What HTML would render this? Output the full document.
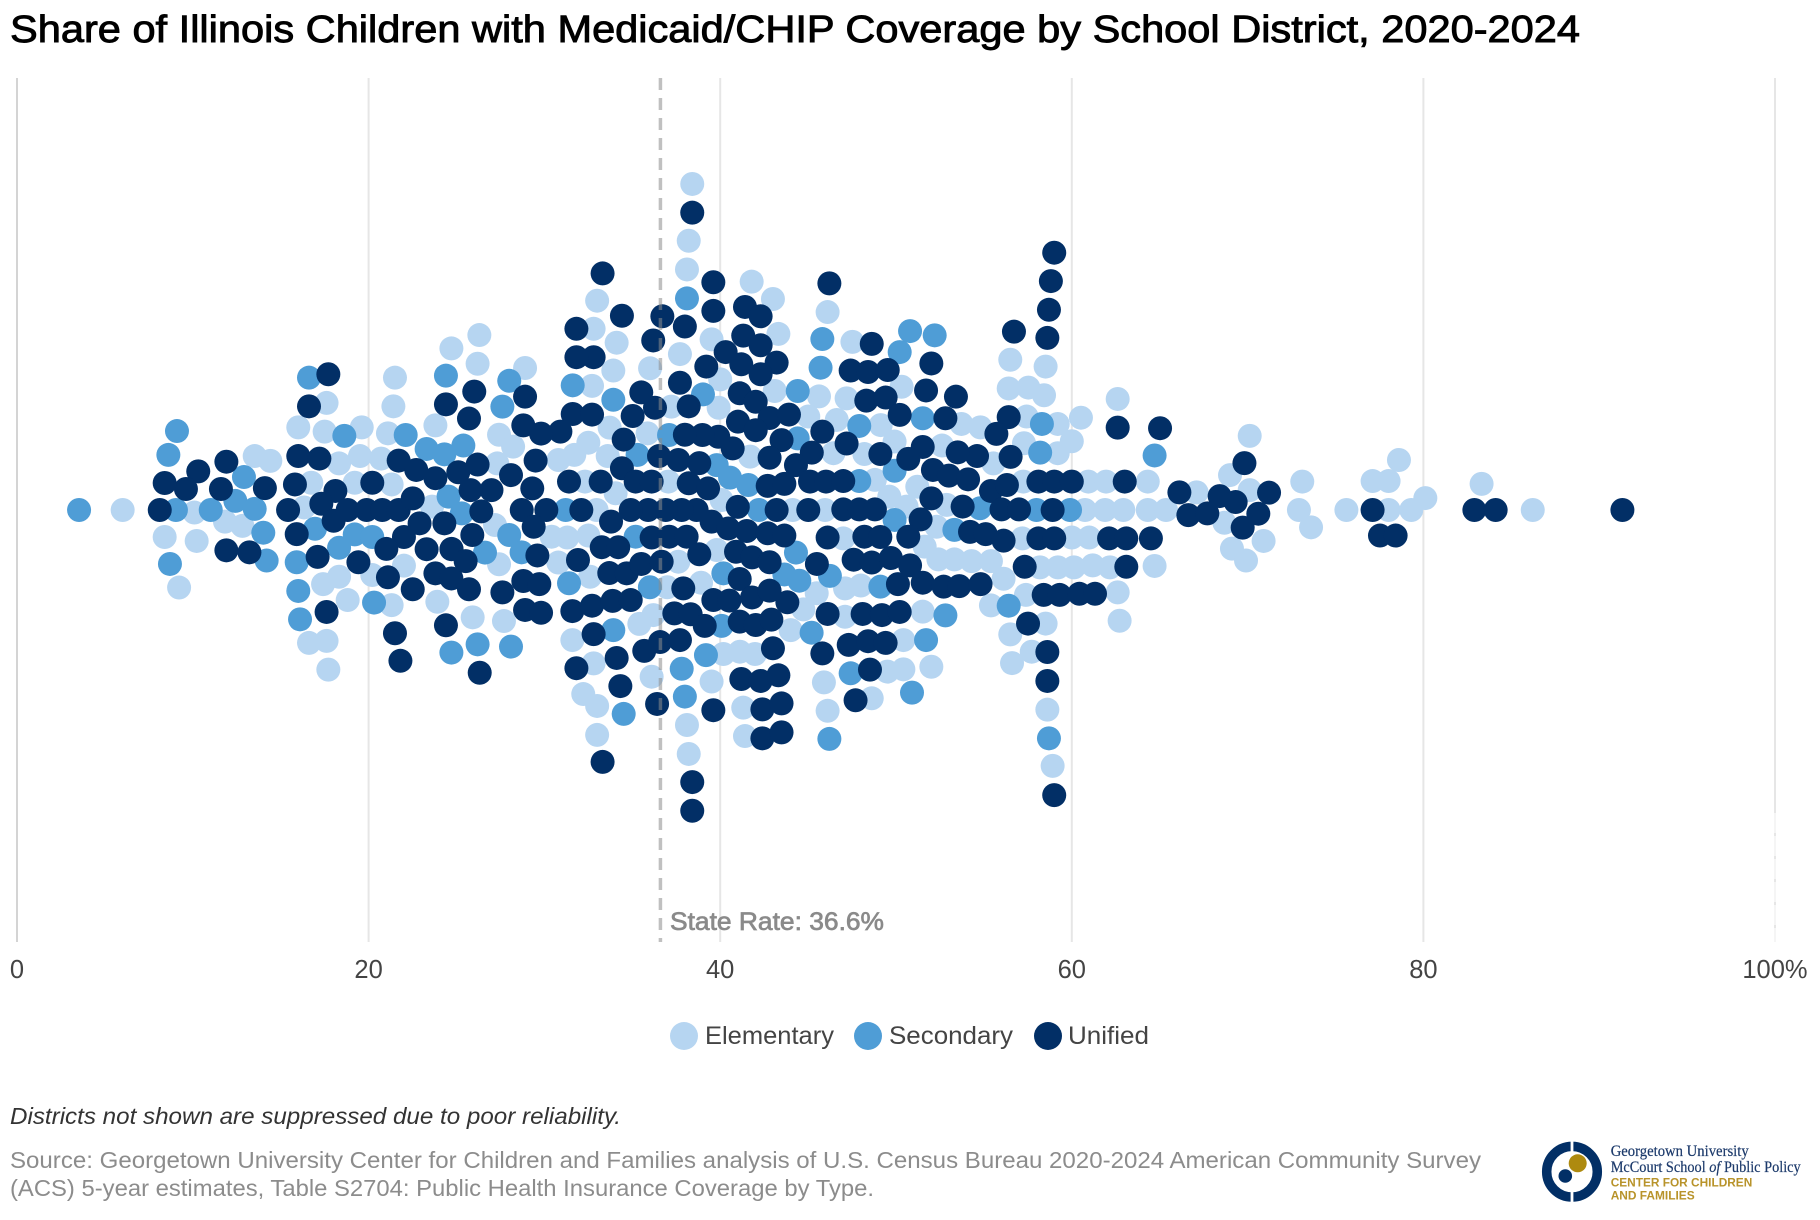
<!DOCTYPE html>
<html lang="en">
<head>
<meta charset="utf-8">
<title>Share of Illinois Children with Medicaid/CHIP Coverage by School District, 2020-2024</title>
<style>
html,body{margin:0;padding:0;background:#fff;width:1820px;height:1220px;overflow:hidden}
svg{display:block;font-family:"Liberation Sans",Arial,sans-serif}
</style>
</head>
<body>
<svg id="chart" xmlns="http://www.w3.org/2000/svg" width="1820" height="1220" viewBox="0 0 1820 1220">
  <text x="10" y="42" font-size="38" fill="#000" stroke="#000" stroke-width="0.9" textLength="1570" lengthAdjust="spacingAndGlyphs">Share of Illinois Children with Medicaid/CHIP Coverage by School District, 2020-2024</text>
  <g id="grid"></g>
  <line x1="1775" x2="1775" y1="813" y2="942" stroke="#fff" stroke-opacity="0.6" stroke-width="2.5" stroke-dasharray="20 3"></line>
  <g id="ticks"></g>
  <g id="elementary" fill="#b6d5f1"></g>
  <g id="secondary" fill="#4f9dd6"></g>
  <g id="unified" fill="#022f66"></g>
  <line id="state-line" y1="78" y2="942" stroke="#8c8c8c" stroke-opacity="0.55" stroke-width="3.5" stroke-dasharray="12 8"></line>
  <text x="670" y="930" font-size="25" fill="#8a8a8a" stroke="#8a8a8a" stroke-width="0.7" textLength="214" lengthAdjust="spacingAndGlyphs">State Rate: 36.6%</text>

  <g>
    <g>
      <circle cx="684" cy="1036" r="14" fill="#b6d5f1"></circle>
      <text x="705" y="1044" font-size="25" fill="#444" textLength="129" lengthAdjust="spacingAndGlyphs">Elementary</text>
    </g>
    <g>
      <circle cx="868" cy="1036" r="14" fill="#4f9dd6"></circle>
      <text x="889" y="1044" font-size="25" fill="#444" textLength="124" lengthAdjust="spacingAndGlyphs">Secondary</text>
    </g>
    <g>
      <circle cx="1048" cy="1036" r="14" fill="#022f66"></circle>
      <text x="1068" y="1044" font-size="25" fill="#444" textLength="81" lengthAdjust="spacingAndGlyphs">Unified</text>
    </g>
  </g>

  <text x="10" y="1124" font-size="23" font-style="italic" fill="#333" textLength="611" lengthAdjust="spacingAndGlyphs">Districts not shown are suppressed due to poor reliability.</text>
  <text x="10" y="1168" font-size="23" fill="#8c8c8c" textLength="1471" lengthAdjust="spacingAndGlyphs">Source: Georgetown University Center for Children and Families analysis of U.S. Census Bureau 2020-2024 American Community Survey</text>
  <text x="10" y="1196" font-size="23" fill="#8c8c8c" textLength="864" lengthAdjust="spacingAndGlyphs">(ACS) 5-year estimates, Table S2704: Public Health Insurance Coverage by Type.</text>

  <g>
    <circle cx="1572" cy="1171.7" r="25.3" fill="none" stroke="#022f66" stroke-width="9.5"></circle>
    <rect x="1570.6" y="1138" width="2.8" height="68" fill="#fff"></rect>
    <circle cx="1577.7" cy="1163.3" r="9" fill="#ae8a0f"></circle>
    <circle cx="1565.3" cy="1176" r="6.8" fill="#022f66"></circle>
    <text x="1610.7" y="1156" font-family="Liberation Serif, serif" font-size="15.5" fill="#1c3a6b" stroke="#1c3a6b" stroke-width="0.2" textLength="138" lengthAdjust="spacingAndGlyphs">Georgetown University</text>
    <text x="1610.7" y="1172" font-family="Liberation Serif, serif" font-size="15.5" fill="#1c3a6b" stroke="#1c3a6b" stroke-width="0.2" textLength="190" lengthAdjust="spacingAndGlyphs">McCourt School <tspan font-style="italic">of</tspan> Public Policy</text>
    <text x="1610.7" y="1186.7" font-size="12" font-weight="bold" fill="#b8932a" textLength="141.6" lengthAdjust="spacingAndGlyphs">CENTER FOR CHILDREN</text>
    <text x="1610.7" y="1199.3" font-size="12" font-weight="bold" fill="#b8932a" textLength="84" lengthAdjust="spacingAndGlyphs">AND FAMILIES</text>
  </g>
</svg>
<script>
// Axis ticks and reference value
var tickValues = [0, 20, 40, 60, 80, 100];
var tickLabels = ["0", "20", "40", "60", "80", "100%"];
var stateRate = 36.6;

// Medicaid/CHIP share (%) and swarm lane (rows from centre) for each district type
var elementaryShare = [6.01,10.09,11.83,12.82,13.52,14.41,8.4,10.22,9.22,16.33,16.74,16,17.5,17.61,17.41,18.32,16.61,17.61,17.71,20.21,22.01,18.81,21.31,23.91,23.61,19.21,21.31,18.32,19.51,20.71,19.61,21.1,23.8,21.5,21.41,24.71,
38.41,38.21,38.11,37.71,39.51,40,39.91,41.79,43.31,43,43.1,45.62,46.11,46.63,45.01,37.22,35.87,36.01,34.11,33.92,33.71,32.8,33,32.71,28.9,27.42,28.22,26.2,26.3,32.5,31.7,30.8,33.6,41.7,46.44,27.32,
32.31,37.05,40.08,44.12,45.96,34.05,32.97,27.19,27.42,30.41,31.3,32.5,39.8,37.62,30.79,32.6,36.99,38.91,45.49,44.73,47.1,36.2,35.4,44.01,25.92,27.7,31.59,40.18,41.12,41.98,36.1,39.51,32.8,32.21,33,33,38.11,38.21,41.31,41.41,45.9,46.11,
58.51,58.42,57.53,56.41,56.5,57.43,59.2,60.52,62.61,60,59.2,57.28,54.8,53.72,47.52,50.32,49.13,47.19,49.92,48.2,52.62,51.21,55.54,57.24,60.94,61.95,64.32,67.1,48.8,49.62,50.6,52.88,60.75,61.89,62.93,64.32,65.36,
47,52.31,57.19,60,60.99,51.63,52.41,53.32,54.3,55.4,58.19,59.21,60.12,61.19,62.17,64.71,48,56.12,57.39,62.61,55.4,62.72,58.51,56.5,57.72,56.6,58.61,58.91,47.1,51.52,50.42,49.51,50.42,52.01,48.62,
70.12,69,70.12,68.68,70.91,69.11,69.91,73.11,72.92,73.61,75.62,78.02,79.31,80.11,77.11,78.02,78.61,83.31,86.22];
var elementaryLane = [0,.09,.41,.56,-1.9,-1.73,.95,1.09,2.73,-.09,-.96,-2.91,-2.76,-3.77,2.61,2.35,4.68,4.61,5.62,2.29,1.96,3.17,3.35,3.23,-.12,-.96,-.9,-1.64,-1.9,-1.81,-2.91,-2.7,-2.98,-4.66,-3.65,-5.69,
-11.48,-9.48,-8.47,-5.49,-6.01,-4.6,-3.6,-8.04,-6.2,-7.43,-4.19,-4,-6.97,-3.17,-3.29,-3.64,-2.7,-4.99,-5.89,-4.91,-2.9,-6.38,-7.37,-4.37,-5,-2.65,-2.23,-5.15,-6.16,-2.37,-1.94,-1.76,-1.9,-1.88,-2,-1.64,
-1,-1,-.35,0,0,-.59,0,.53,1.91,.94,.97,.9,1.41,1.82,1.85,2.35,2.72,2.56,2.93,3.5,2.76,3.7,4.01,4.23,3.78,3.91,4.58,5.07,4.99,5.07,5.87,6.04,5.4,6.48,6.9,7.92,7.57,8.59,6.96,7.96,6.07,7.07,
-5.05,-4.04,-4.31,-4.28,-5.29,-3.29,-3.03,-3.25,-3.91,-2.42,-2,-2.35,-2.91,-3.03,-5.92,-4.34,-2.99,-3.93,-2.41,-1.97,-2.27,-.82,-1.64,-1,-1,-1,-1,-.62,-1.06,-.47,-.12,-.18,0,0,0,0,0,
1,.59,1,.97,.97,1.29,1.74,1.74,1.8,1.8,2.02,2.02,2.02,1.95,2.02,1.97,2.66,2.42,2.99,2.9,3.36,3.9,4,4.38,4.99,5.39,7.03,9.01,3.76,3.58,4.58,5.69,5.61,5.52,6.63,
-2.61,-1.23,-.7,.45,1.09,1.36,1.78,-1,0,.61,0,0,0,-.42,-1.02,-1.02,-1.76,-.92,0];

var secondaryShare = [3.53,9.04,11.02,12.42,13.52,12.91,8.61,9.1,8.7,14.01,14.2,16.61,16.95,15.91,16,16.1,18.32,19.21,20.21,20.31,24.71,24.55,18.62,22.11,23.3,24.31,
38.11,39.02,44.41,45.81,45.71,44.41,37.09,33.92,31.61,28,27.61,24.4,35.3,39.8,40.56,25.39,
41.6,42.2,31.21,28,25.3,44.31,46.24,26.62,28.7,35.19,31.4,36,40.18,43.65,44.5,33.92,40.08,45.2,26.2,28.1,39.19,37.81,34.51,37.99,46.21,
58.3,64.71,58.2,51.52,52.2,50.8,50.21,47.91,49.92,47.91,54.78,49.92,57.99,59.9,
53.32,49.11,56.41,52.81,51.71,47.42,50.91,58.7];
var secondaryLane = [0,0,0,-.32,-.04,-1.16,-1.94,-2.78,1.9,.8,1.78,-4.66,.66,1.84,2.85,3.85,1.33,.86,.95,3.26,5.02,-.47,-2.61,-2.64,-2.15,-1.96,
-7.45,-4.07,-4.19,-6.02,-5.01,-2.52,-2.64,-3.88,-4.39,-4.55,-3.64,-4.73,-1.94,-1.58,-1.14,-2.27,
-.88,0,0,.88,.12,1.5,2.32,1.5,1.49,.94,2.58,2.72,2.23,2.27,2.49,4.23,4.08,4.32,4.73,4.81,5.11,5.59,7.18,6.57,8.06,
-3.03,-1.92,-2.02,-3.23,-6.15,-6.3,-5.56,-2.96,-1.38,-1.02,-.06,.35,0,0,
.7,2.7,3.37,3.71,4.58,5.75,6.43,8.04];

var unifiedShare = [8.12,11.6,14.1,11.91,10.31,9.61,8.4,11.91,13.22,15.42,15.81,16,17.2,16.61,17.71,15.91,17.1,17.61,18.11,17.31,18.01,18.81,19.89,20.78,21.71,22.51,22.9,22.01,21.01,19.42,21.1,22.51,21.5,21.81,24.4,23.8,24.71,23.3,24.71,24.31,20.21,21.71,22.71,23.8,25.1,24.4,
38.41,37.99,37.71,38.21,39.61,39.61,39.21,40.31,41.41,42.3,41.31,42.3,41.2,43.21,42.3,41.11,42.02,46.21,42.81,43.91,41.01,42.02,45.81,43.49,45.21,40.71,39.89,38.99,37.99,34.51,35.02,36.29,35.51,36.19,36.71,34.41,32.8,31.82,31.82,33.31,31.61,32.71,30.91,29.81,28.8,28.9,26.01,25.71,29.5,36.52,37.62,38.81,42.81,44.31,26.2,28.1,34.41,
31.4,33.2,35.19,36.1,38.21,39.31,42.7,43.65,45.11,46.02,41,43.21,45.01,39.51,40.46,41.51,42.7,43.65,46.11,45.5,38.66,37.81,36.9,35.9,34.91,33.79,32.1,30.11,28.71,29.31,26.99,25.8,29.39,26.41,25.9,24.72,25.52,29.6,36.1,37.1,38.09,38.81,40.9,41.81,42.81,33.26,34.2,31.91,33.69,34.68,35.51,36.67,28.8,29.71,27.61,25.71,37.9,41.11,41.81,42.81,43.82,39.61,40.52,46.11,31.59,32.71,33.88,34.91,37.39,38.32,39.12,41.11,42.02,42.91,45.81,28.9,29.81,26.32,32.8,34.11,35.68,36.58,37.71,43,31.82,34.32,36.41,38.41,38.41,39.61,41.2,42.3,43.31,42.4,43.49,42.4,43.49,33.31,
59,58.81,58.7,58.61,56.71,56.41,55.71,62.61,65.02,56.52,54.61,53.51,52.81,53.41,51.71,52.01,48.62,47.42,48.41,49.53,48.31,49.41,50.21,47.19,49.11,51.52,50.7,52.1,53.01,54.1,55.4,56.31,58.1,59,60,63.01,66.12,68.41,66.63,47,52.01,53.79,47,47.91,48.8,56,57,58.91,
51.4,48.2,49.11,50.7,54.21,55.1,56.12,58.1,59,62.12,63.1,64.5,57.32,63.1,47.59,48.62,49.71,50.8,50.11,51.52,52.71,53.6,54.81,58.4,59.31,60.43,61.32,57.51,58.61,58.61,59,48.1,49.2,50.21,47.31,48.41,49.41,48.52,47.7,
69.82,71.22,69.32,67.71,70.61,69.72,77.11,77.53,78.42,82.9,84.11,91.32];
var unifiedLane = [0,-.74,-.77,-1.7,-1.36,-.74,-.95,1.42,1.49,0,-.9,-1.9,-1.81,-3.65,-4.78,.85,1.65,3.59,-.67,-.22,.38,0,0,0,0,-.41,.47,.95,1.37,1.84,2.37,2.79,4.34,5.31,4.06,2.23,2.41,1.38,1.38,.47,-.96,-1.74,-1.41,-1.12,-1.33,-3.72,
-10.47,-6.46,-4.48,-3.65,-8.02,-7.01,-5.05,-5.56,-7.15,-6.82,-6.14,-5.8,-5.13,-5.19,-4.78,-4.11,-3.81,-7.98,-3.24,-3.36,-3.11,-2.81,-2.76,-2.46,-2.02,-2.17,-2.58,-2.64,-2.65,-2.48,-3.31,-3.6,-4.14,-5.97,-6.82,-6.84,-5.38,-6.38,-5.38,-8.33,-3.38,-3.36,-2.76,-2.69,-2.98,-3.99,-4.17,-3.22,-1.74,-1.9,-1.76,-1.65,-1.84,-1.58,-1.6,-1.23,-1.47,
-1,-1,-1,-1,-.94,-.76,-.85,-.92,-1,-1,-.11,0,0,.41,.65,.74,.82,.9,.97,1.9,0,0,0,0,0,.41,0,0,0,-.76,-.7,-.7,.59,.05,.88,1.37,1.8,1.6,.97,.94,.94,1.56,1.47,1.67,1.84,1.31,1.31,1.76,2.22,2.23,1.9,1.82,2.5,2.61,2.9,2.79,2.76,2.43,3.08,2.84,3.25,3.17,3.19,3.66,3.56,3.37,3.2,3.17,3.64,3.67,4.08,3.93,4.05,3.86,5.05,3.52,3.62,5.73,4.37,5.21,4.96,4.65,4.58,4.87,5.57,6.2,6.83,9.58,10.59,7.05,5.95,6.02,5.82,7.02,6.81,8.04,7.83,8.87,
-9.06,-8.06,-7.05,-6.06,-6.28,-3.27,-2.68,-2.9,-2.88,-1.87,-1.9,-2.03,-3.23,-3.99,-4.21,-5.16,-5.85,-4.91,-4.86,-4.93,-3.85,-3.96,-3.35,-2.34,-1.97,-2.22,-1.8,-1.41,-1.21,-1.08,-.67,-.88,-1,-1,-1,-1,-.62,-.49,.18,-1.02,-.41,-.12,-.02,-.02,-.02,-.02,-.02,0,
.33,.94,.95,.94,.77,.85,1.08,1,1,1,1,1,2,2,1.75,1.85,1.69,1.95,2.61,2.56,2.7,2.68,2.61,2.99,2.99,2.95,2.95,4,5,6.02,10.04,3.66,3.7,3.59,4.75,4.62,4.68,5.62,6.7,
-1.65,-.61,-.28,.12,.13,.62,0,.9,.9,0,0,0];

// Axis functions
function xScale(value) { return 17 + value * 17.58; }
function yScale(lane) { return 510 + lane * 28.4; }

var SVGNS = "http://www.w3.org/2000/svg";

function drawGrid() {
  var grid = document.getElementById("grid");
  var ticks = document.getElementById("ticks");
  for (var i = 0; i < tickValues.length; i++) {
    var line = document.createElementNS(SVGNS, "line");
    
    
    line.setAttribute("x1", xScale(tickValues[i]));
    line.setAttribute("x2", xScale(tickValues[i]));
    line.setAttribute("y1", 78);
    line.setAttribute("y2", 942);
    line.setAttribute("stroke", tickValues[i] === 0 ? "#d4d4d4" : "#e6e6e6");
    line.setAttribute("stroke-width", 2);
    grid.appendChild(line);

    var label = document.createElementNS(SVGNS, "text");
    
    
    label.setAttribute("x", xScale(tickValues[i]));
    label.setAttribute("y", 978);
    label.setAttribute("font-size", 25.5);
    label.setAttribute("fill", "#444");
    label.setAttribute("text-anchor", "middle");
    label.textContent = tickLabels[i];
    ticks.appendChild(label);
  }
}

function drawSeries(groupId, shares, lanes) {
  var group = document.getElementById(groupId);
  for (var i = 0; i < shares.length; i++) {
    var dot = document.createElementNS(SVGNS, "circle");
    
    
    dot.setAttribute("cx", xScale(shares[i]).toFixed(2));
    dot.setAttribute("cy", yScale(lanes[i]).toFixed(2));
    dot.setAttribute("r", 12);
    group.appendChild(dot);
  }
}

drawGrid();
drawSeries("elementary", elementaryShare, elementaryLane);
drawSeries("secondary", secondaryShare, secondaryLane);
drawSeries("unified", unifiedShare, unifiedLane);

var stateLine = document.getElementById("state-line");
stateLine.setAttribute("x1", xScale(stateRate));
stateLine.setAttribute("x2", xScale(stateRate));
</script>
</body>
</html>
